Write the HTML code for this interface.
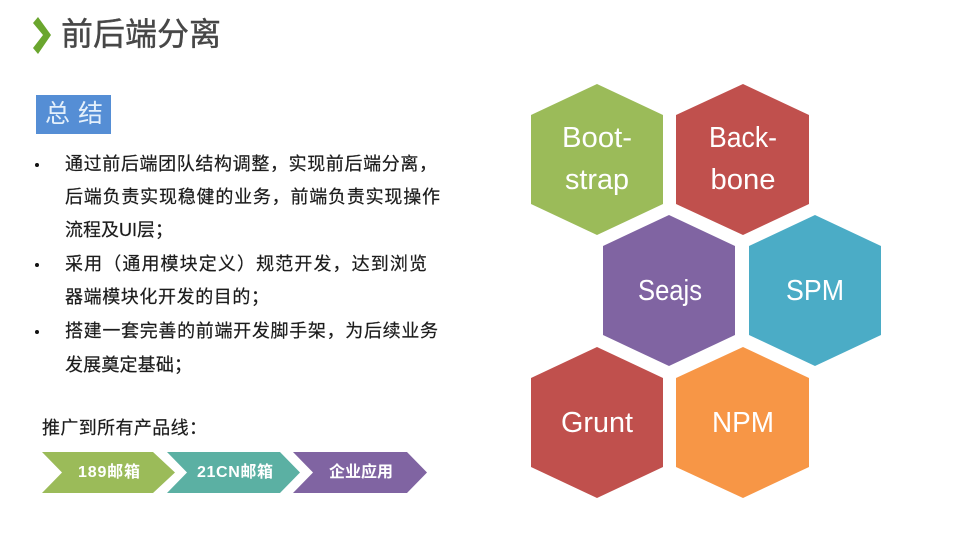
<!DOCTYPE html>
<html lang="zh">
<head>
<meta charset="utf-8">
<style>
html,body{margin:0;padding:0;background:#fff;width:960px;height:540px;overflow:hidden}
svg{display:block;filter:blur(0.35px)}
text{font-family:"Liberation Sans","Noto Sans CJK SC",sans-serif}
.b{font-size:18px;fill:#1c1c1c;stroke:#1c1c1c;stroke-width:.2}
.h{font-size:29px;fill:#fff;text-anchor:middle}
.c{font-size:16px;fill:#fff;font-weight:bold}
</style>
</head>
<body>
<svg width="960" height="540" viewBox="0 0 960 540" xmlns="http://www.w3.org/2000/svg">
<rect width="960" height="540" fill="#fff"/>

<!-- Title -->
<polygon points="33,23 38,17 51,35 38,54 33,48 43,35" fill="#6aa62e"/>
<text x="61" y="45" font-size="32" fill="#474747" stroke="#474747" stroke-width=".4" textLength="160">前后端分离</text>

<!-- Summary tag -->
<rect x="36" y="95" width="75" height="39" fill="#558ed5"/>
<text x="45" y="122" font-size="25" fill="#e4f0fb" textLength="58">总结</text>

<!-- Bullets -->
<circle cx="37" cy="165" r="2" fill="#111"/>
<circle cx="37" cy="265" r="2" fill="#111"/>
<circle cx="37" cy="332" r="2" fill="#111"/>
<text class="b" x="65" y="170" textLength="372">通过前后端团队结构调整，实现前后端分离，</text>
<text class="b" x="65" y="203" textLength="375">后端负责实现稳健的业务，前端负责实现操作</text>
<text class="b" x="65" y="236" textLength="108">流程及UI层；</text>
<text class="b" x="65" y="270" textLength="362">采用（通用模块定义）规范开发，达到浏览</text>
<text class="b" x="65" y="303" textLength="204">器端模块化开发的目的；</text>
<text class="b" x="65" y="337" textLength="373">搭建一套完善的前端开发脚手架，为后续业务</text>
<text class="b" x="65" y="371" textLength="127">发展奠定基础；</text>

<text x="42" y="434" font-size="18" fill="#1c1c1c" stroke="#1c1c1c" stroke-width=".2" textLength="165">推广到所有产品线：</text>

<!-- Chevrons -->
<polygon points="42,452 153,452 175,472.5 153,493 42,493 62,472.5" fill="#9bbb59"/>
<polygon points="167,452 280,452 300,472.5 280,493 167,493 187,472.5" fill="#5bb0a3"/>
<polygon points="293,452 407,452 427,472.5 407,493 293,493 313,472.5" fill="#8064a2"/>
<text class="c" x="78" y="477" textLength="62">189邮箱</text>
<text class="c" x="197" y="477" textLength="76">21CN邮箱</text>
<text class="c" x="329" y="477" textLength="64">企业应用</text>

<!-- Hexagons -->
<polygon points="597,84 663,115 663,204 597,235 531,204 531,115" fill="#9bbb59"/>
<polygon points="743,84 809,115 809,204 743,235 676,204 676,115" fill="#c0504d"/>
<polygon points="669,215 735,246 735,335 669,366 603,335 603,246" fill="#8064a2"/>
<polygon points="815,215 881,246 881,335 815,366 749,335 749,246" fill="#4bacc6"/>
<polygon points="597,347 663,378 663,467 597,498 531,467 531,378" fill="#c0504d"/>
<polygon points="743,347 809,378 809,467 743,498 676,467 676,378" fill="#f79646"/>

<text class="h" x="597" y="147" textLength="70" lengthAdjust="spacingAndGlyphs">Boot-</text>
<text class="h" x="597" y="189" textLength="64" lengthAdjust="spacingAndGlyphs">strap</text>
<text class="h" x="743" y="147" textLength="68" lengthAdjust="spacingAndGlyphs">Back-</text>
<text class="h" x="743" y="189" textLength="65" lengthAdjust="spacingAndGlyphs">bone</text>
<text class="h" x="670" y="300" textLength="64" lengthAdjust="spacingAndGlyphs">Seajs</text>
<text class="h" x="815" y="300" textLength="58" lengthAdjust="spacingAndGlyphs">SPM</text>
<text class="h" x="597" y="432" textLength="72" lengthAdjust="spacingAndGlyphs">Grunt</text>
<text class="h" x="743" y="432" textLength="62" lengthAdjust="spacingAndGlyphs">NPM</text>
</svg>
</body>
</html>
